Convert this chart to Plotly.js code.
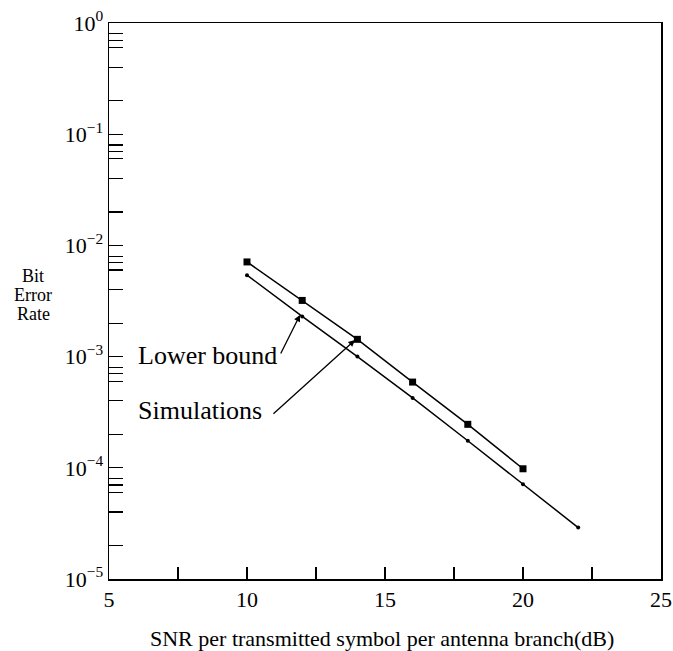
<!DOCTYPE html>
<html>
<head>
<meta charset="utf-8">
<script src="https://cdn.plot.ly/plotly-3.0.1.min.js"></script>
<style>html,body{margin:0;padding:0;background:#fff;}#chart{width:673px;height:651px;}</style>
</head>
<body>
<div id="chart"></div>
<script>
// Data
var snrSim = [10, 12, 14, 16, 18, 20];
var berSim = [7.1e-3, 3.2e-3, 1.43e-3, 5.9e-4, 2.46e-4, 9.8e-5];
var snrBound = [10, 12, 14, 16, 18, 20, 22];
var berBound = [5.4e-3, 2.3e-3, 1.0e-3, 4.25e-4, 1.75e-4, 7.1e-5, 2.9e-5];

var xTickVals = [5, 7.5, 10, 12.5, 15, 17.5, 20, 22.5, 25];
var xTickText = ['5', '', '10', '', '15', '', '20', '', '25'];
var yMajorExp = [0, -1, -2, -3, -4, -5];
var yMajorText = ['10<sup>0</sup>', '10<sup>−1</sup>', '10<sup>−2</sup>', '10<sup>−3</sup>', '10<sup>−4</sup>', '10<sup>−5</sup>'];
var yMinorMult = [2, 4, 6, 7, 8];
var yTitleLines = ['Bit', 'Error', 'Rate'];
var xTitle = 'SNR per transmitted symbol per antenna branch(dB)';

var yTickVals = [], yTickText = [];
yMajorExp.forEach(function (e, i) {
  yTickVals.push(Math.pow(10, e)); yTickText.push(yMajorText[i]);
  if (e < 0) {
    yMinorMult.forEach(function (m) {
      yTickVals.push(m * Math.pow(10, e)); yTickText.push('');
    });
  }
});

var FONT = 'Liberation Serif, Times New Roman, serif';

var traces = [
  {
    x: snrSim, y: berSim, type: 'scatter', mode: 'lines+markers',
    line: {color: '#000', width: 1.5},
    marker: {symbol: 'square', size: 7, color: '#000'},
    name: 'Simulations', showlegend: false
  },
  {
    x: snrBound, y: berBound, type: 'scatter', mode: 'lines+markers',
    line: {color: '#000', width: 1.5},
    marker: {symbol: 'circle', size: 4, color: '#000'},
    name: 'Lower bound', showlegend: false
  }
];

var ML = 109, MR = 12, MT = 23, MB = 72, W = 673, H = 651;
var plotW = W - ML - MR, plotH = H - MT - MB;
function px(x) { return (x - ML) / plotW; }
function py(y) { return 1 - (y - MT) / plotH; }

var annotations = [
  {
    x: 11.92, y: -2.626, xref: 'x', yref: 'y', text: '',
    showarrow: true, ax: -20, ay: 40, arrowhead: 2, arrowsize: 1, arrowwidth: 1.3, arrowcolor: '#000'
  },
  {
    x: 13.91, y: -2.851, xref: 'x', yref: 'y', text: '',
    showarrow: true, ax: -83, ay: 75, arrowhead: 2, arrowsize: 1, arrowwidth: 1.3, arrowcolor: '#000'
  },
  {
    x: px(136), y: py(355), xref: 'paper', yref: 'paper', text: 'Lower bound', showarrow: false,
    xanchor: 'left', yanchor: 'middle', font: {family: FONT, size: 26, color: '#000'}
  },
  {
    x: px(136), y: py(410), xref: 'paper', yref: 'paper', text: 'Simulations', showarrow: false,
    xanchor: 'left', yanchor: 'middle', font: {family: FONT, size: 26, color: '#000'}
  },
  {
    x: px(382), y: py(638), xref: 'paper', yref: 'paper', text: xTitle, showarrow: false,
    xanchor: 'center', yanchor: 'middle', font: {family: FONT, size: 22, color: '#000'}
  }
];
yTitleLines.forEach(function (t, i) {
  annotations.push({
    x: px(33), y: py(276 + i * 19), xref: 'paper', yref: 'paper', text: t, showarrow: false,
    xanchor: 'center', yanchor: 'middle', font: {family: FONT, size: 18, color: '#000'}
  });
});

var layout = {
  width: W, height: H,
  margin: {l: ML, r: MR, t: MT, b: MB},
  paper_bgcolor: '#fff', plot_bgcolor: '#fff',
  font: {family: FONT, color: '#000'},
  xaxis: {
    range: [5, 25], tickmode: 'array', tickvals: xTickVals, ticktext: xTickText,
    ticks: 'inside', ticklen: 12, tickwidth: 1.2, tickcolor: '#000',
    showline: true, linecolor: '#000', linewidth: 1.5, mirror: true,
    showgrid: false, zeroline: false,
    tickfont: {family: FONT, size: 22, color: '#000'}
  },
  yaxis: {
    type: 'log', range: [-5, 0], tickmode: 'array', tickvals: yTickVals, ticktext: yTickText,
    ticks: 'inside', ticklen: 14, tickwidth: 1.2, tickcolor: '#000',
    showline: true, linecolor: '#000', linewidth: 1.5, mirror: true,
    showgrid: false, zeroline: false,
    tickfont: {family: FONT, size: 22, color: '#000'}
  },
  annotations: annotations
};

Plotly.newPlot('chart', traces, layout, {displayModeBar: false, staticPlot: true});
</script>
</body>
</html>
